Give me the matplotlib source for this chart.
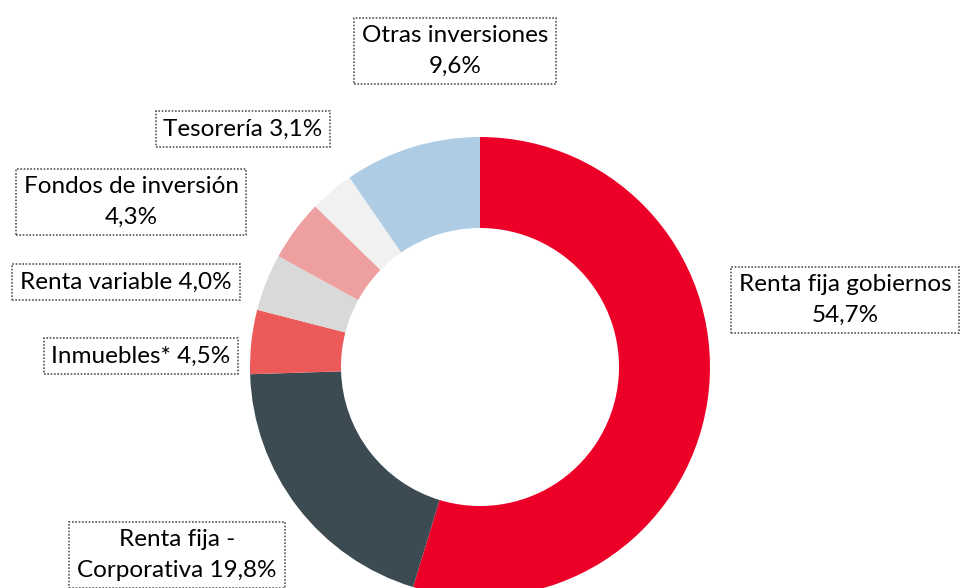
import matplotlib
matplotlib.use("Agg")
import matplotlib.pyplot as plt

labels = ["Renta fija gobiernos\n54,7%", "Renta fija -\nCorporativa 19,8%", "Inmuebles* 4,5%",
          "Renta variable 4,0%", "Fondos de inversión\n4,3%", "Tesorería 3,1%",
          "Otras inversiones\n9,6%"]
values = [54.7, 19.8, 4.5, 4.0, 4.3, 3.1, 9.6]
colors = ["#EC0028", "#3C4A52", "#EC5A5A", "#D9D9D9", "#EE9F9F", "#F1F1F1", "#AFCCE5"]

# label centres in pixel coords (y from top)
label_pos = [(845, 300), (177, 555), (141, 356), (126, 282), (131, 202), (243, 129), (455, 51)]

plt.rcParams['font.family'] = ['Lato', 'DejaVu Sans']

W, H = 960, 588
fig = plt.figure(figsize=(W / 100, H / 100), dpi=100)
ax = fig.add_axes([0, 0, 1, 1])
ax.set_xlim(0, W)
ax.set_ylim(0, H)
ax.set_aspect('equal')
ax.axis('off')

ax.pie(values, colors=colors, startangle=90, counterclock=False,
       center=(480, H - 367), radius=230,
       wedgeprops=dict(width=91, edgecolor='none'))
ax.set_xlim(0, W)
ax.set_ylim(0, H)

for lab, (x, y) in zip(labels, label_pos):
    ax.text(x, H - y, lab, ha='center', va='center', fontsize=17.5, color='black',
            linespacing=1.55,
            bbox=dict(boxstyle='square,pad=0.32', facecolor='white',
                      edgecolor='#555555', linestyle=(0, (1, 1)), linewidth=1.2))

fig.savefig("out.png", dpi=100)
